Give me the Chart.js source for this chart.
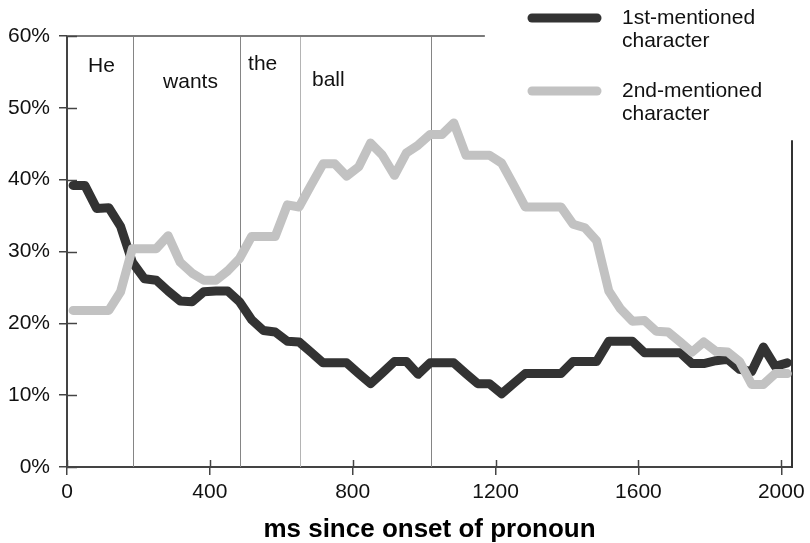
<!DOCTYPE html>
<html><head><meta charset="utf-8">
<style>html,body{margin:0;padding:0;background:#fff}#wrap{width:810px;height:543px;position:relative}</style>
<script src="https://cdn.jsdelivr.net/npm/chart.js@4.4.1/dist/chart.umd.min.js"></script>
</head><body><div id="wrap"><canvas id="c" width="810" height="543"></canvas></div>
<script>
// ---- data ----
const timesMs = [17,50,83,117,150,183,217,250,283,317,350,383,417,450,483,517,550,583,617,650,683,717,750,783,817,850,883,917,950,983,1017,1050,1083,1117,1150,1183,1217,1250,1283,1317,1350,1383,1417,1450,1483,1517,1550,1583,1617,1650,1683,1717,1750,1783,1817,1850,1883,1917,1950,1983,2017];
const firstMentioned = [39.2,39.2,36.0,36.1,33.5,28.5,26.2,26.0,24.5,23.1,23.0,24.4,24.5,24.5,23.0,20.5,19.0,18.8,17.5,17.4,16.0,14.5,14.5,14.5,13.0,11.6,13.1,14.7,14.7,12.9,14.5,14.5,14.5,13.0,11.6,11.6,10.2,11.6,13.0,13.0,13.0,13.0,14.7,14.7,14.7,17.5,17.5,17.5,15.9,15.9,15.9,15.9,14.4,14.4,14.8,15.0,13.6,13.3,16.7,14.0,14.5];
const secondMentioned = [21.8,21.8,21.8,21.8,24.4,30.4,30.4,30.4,32.2,28.5,27.0,26.0,26.0,27.3,29.0,32.1,32.1,32.1,36.5,36.2,39.2,42.2,42.2,40.5,41.8,45.1,43.4,40.6,43.7,44.8,46.3,46.3,47.9,43.4,43.4,43.4,42.3,39.3,36.2,36.2,36.2,36.2,33.8,33.3,31.5,24.5,22.0,20.3,20.4,18.9,18.8,17.4,16.0,17.4,16.1,16.0,14.7,11.5,11.5,13.0,13.0];
const seriesNames = [['1st-mentioned','character'],['2nd-mentioned','character']];
const xTickValues = [0,400,800,1200,1600,2000];
const yTickValues = [0,10,20,30,40,50,60];
const wordOnsetsMs = [185,485,652,1018];
const words = ['He','wants','the','ball'];
const wordLabelMs = [59,269,507,686];
const wordLabelPct = [55.8,53.5,56.1,53.9];
const xTitle = 'ms since onset of pronoun';
const xMax = 2030, yMax = 60;
const topLineEndMs = 1170;
const rightLineTopPct = 45.5;

const FONT = '"Liberation Sans", Arial, Helvetica, sans-serif';
const DARK = '#333333', LIGHT = '#c2c2c2';

const pts = arr => arr.map((v,i)=>({x: timesMs[i], y: v}));

const decor = {
  id: 'decor',
  beforeDatasetsDraw(chart){
    const {ctx, scales:{x, y}} = chart;
    ctx.save();
    const yTop = y.getPixelForValue(yMax), yBot = y.getPixelForValue(0);
    wordOnsetsMs.forEach((ms, i) => {
      const px = Math.round(x.getPixelForValue(ms)) + 0.5;
      ctx.strokeStyle = i === 2 ? '#b4b4b4' : '#858585';
      ctx.lineWidth = 1;
      ctx.beginPath(); ctx.moveTo(px, yTop); ctx.lineTo(px, yBot); ctx.stroke();
    });
    // top frame line
    ctx.strokeStyle = '#7a7a7a'; ctx.lineWidth = 2;
    ctx.beginPath(); ctx.moveTo(x.getPixelForValue(0), yTop); ctx.lineTo(x.getPixelForValue(topLineEndMs), yTop); ctx.stroke();
    // right frame line
    const rx = x.getPixelForValue(xMax);
    ctx.strokeStyle = '#333'; ctx.lineWidth = 2;
    ctx.beginPath(); ctx.moveTo(rx, y.getPixelForValue(rightLineTopPct)); ctx.lineTo(rx, yBot + 1); ctx.stroke();
    // inner tick parts
    ctx.strokeStyle = '#444'; ctx.lineWidth = 1.5;
    const x0 = x.getPixelForValue(0);
    yTickValues.forEach(v => {
      const py = Math.round(y.getPixelForValue(v)) + 0.5;
      ctx.beginPath(); ctx.moveTo(x0, py); ctx.lineTo(x0 + 10, py); ctx.stroke();
    });
    xTickValues.forEach(v => {
      const px = Math.round(x.getPixelForValue(v)) + 0.5;
      ctx.beginPath(); ctx.moveTo(px, yBot); ctx.lineTo(px, yBot - 7); ctx.stroke();
    });
    // word labels
    ctx.font = '21px ' + FONT; ctx.fillStyle = '#111'; ctx.textBaseline = 'middle'; ctx.textAlign = 'left';
    words.forEach((w, i) => ctx.fillText(w, x.getPixelForValue(wordLabelMs[i]), y.getPixelForValue(wordLabelPct[i])));
    ctx.restore();
  },
  afterDraw(chart){
    const {ctx} = chart;
    ctx.save();
    const items = [{c: DARK, y: 18, t: seriesNames[0]}, {c: LIGHT, y: 91, t: seriesNames[1]}];
    items.forEach(it => {
      ctx.strokeStyle = it.c; ctx.lineWidth = 9; ctx.lineCap = 'round';
      ctx.beginPath(); ctx.moveTo(532, it.y); ctx.lineTo(597, it.y); ctx.stroke();
      ctx.font = '21px ' + FONT; ctx.fillStyle = '#111'; ctx.textBaseline = 'middle'; ctx.textAlign = 'left';
      it.t.forEach((line, k) => ctx.fillText(line, 622, it.y + k * 23));
    });
    ctx.restore();
  }
};

new Chart(document.getElementById('c'), {
  type: 'line',
  data: {
    datasets: [
      {label: '1st-mentioned character', data: pts(firstMentioned), borderColor: DARK, backgroundColor: DARK, borderWidth: 9, pointRadius: 0, tension: 0, borderJoinStyle: 'round', borderCapStyle: 'round', order: 1},
      {label: '2nd-mentioned character', data: pts(secondMentioned), borderColor: LIGHT, backgroundColor: LIGHT, borderWidth: 9, pointRadius: 0, tension: 0, borderJoinStyle: 'round', borderCapStyle: 'round', order: 0}
    ]
  },
  options: {
    responsive: false, animation: false, devicePixelRatio: 1,
    layout: {padding: {top: 36, right: 18, left: 0, bottom: 0}},
    plugins: {legend: {display: false}, tooltip: {enabled: false}},
    scales: {
      x: {
        type: 'linear', min: 0, max: xMax,
        afterBuildTicks: s => { s.ticks = xTickValues.map(v => ({value: v})); },
        afterFit: s => { s.height = 76; },
        grid: {display: true, drawOnChartArea: false, drawTicks: true, tickLength: 8, color: '#444', lineWidth: 1.5},
        border: {display: true, color: '#444', width: 2},
        ticks: {font: {family: FONT, size: 21}, color: '#111', padding: 5, maxRotation: 0, callback: v => String(v)},
        title: {display: true, text: xTitle, font: {family: FONT, size: 26, weight: 'bold', lineHeight: 1.0}, color: '#000', padding: {top: 0, bottom: 0}}
      },
      y: {
        type: 'linear', min: 0, max: yMax,
        afterBuildTicks: s => { s.ticks = yTickValues.map(v => ({value: v})); },
        afterFit: s => { s.width = 67; },
        grid: {display: true, drawOnChartArea: false, drawTicks: true, tickLength: 8, color: '#444', lineWidth: 1.5},
        border: {display: true, color: '#444', width: 2},
        ticks: {font: {family: FONT, size: 21}, color: '#111', padding: 9, callback: v => v + '%'}
      }
    }
  },
  plugins: [decor]
});
</script></body></html>
